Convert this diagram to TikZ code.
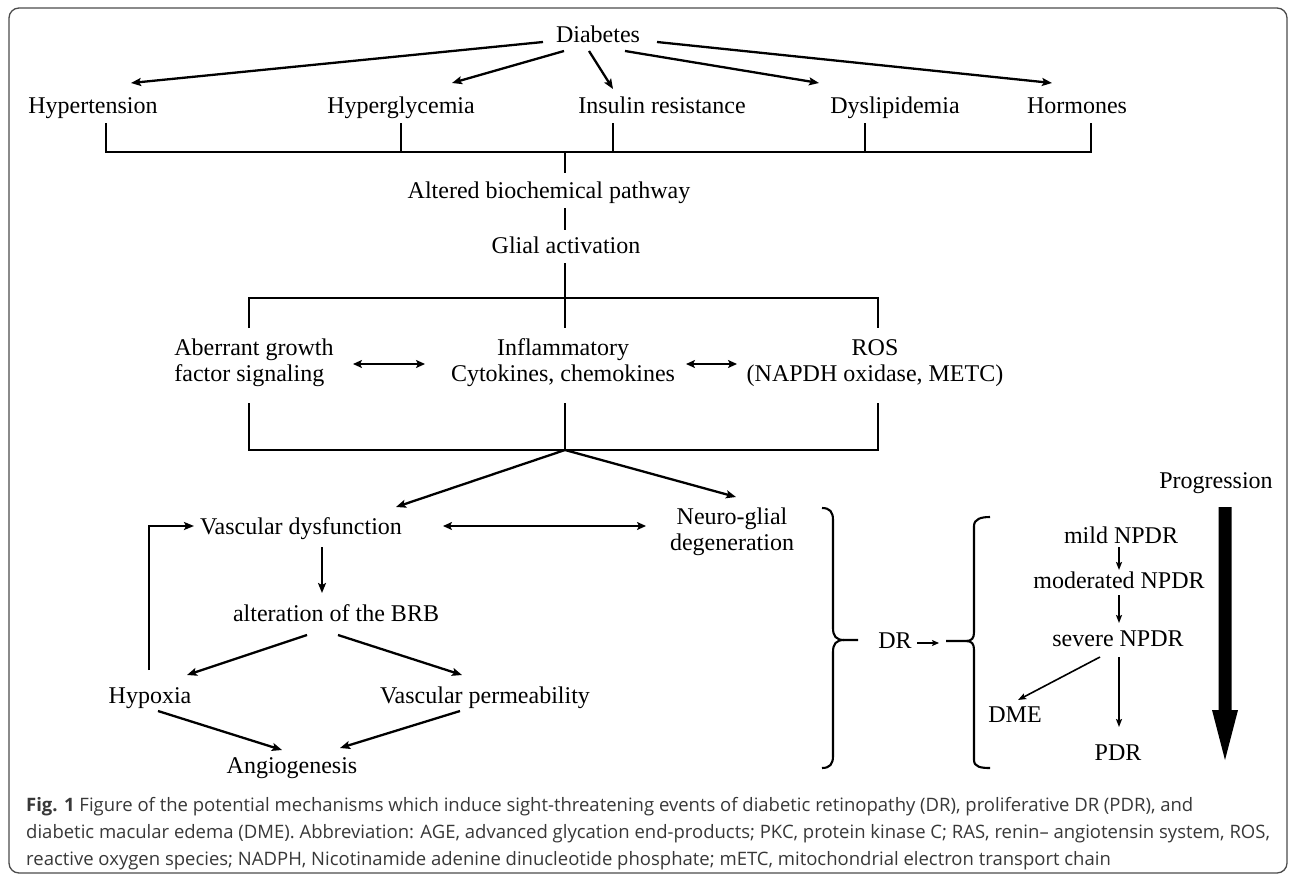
\documentclass[tikz,border=0pt]{standalone}
\usepackage{fontspec}
\setmainfont{Liberation Serif}
\newfontfamily\capfont{Open Sans}
\usetikzlibrary{arrows.meta,calc}
\begin{document}
\begin{tikzpicture}[x=1pt,y=-1pt,
  lbl/.style={font=\fontsize{24}{26}\selectfont, inner sep=0pt, text height=16pt, text depth=0pt},
  mlbl/.style={font=\fontsize{24}{26}\selectfont, inner sep=0pt, align=center},
  ln/.style={line width=2.3pt},
  arr/.style={line width=2.3pt, -{Stealth[length=10pt,width=8pt,inset=2pt]}},
  darr/.style={line width=2.3pt, {Stealth[length=9pt,width=8pt,inset=2pt]}-{Stealth[length=9pt,width=8pt,inset=2pt]}},
  tarr/.style={line width=1.6pt, -{Stealth[length=8pt,width=6pt,inset=1.5pt]}},
  capt/.style={anchor=base west, inner sep=0pt, text=black!78, font=\capfont\fontsize{18.5}{22}\selectfont},
]
\useasboundingbox (0,0) rectangle (1292,875);
\fill[white] (0,0) rectangle (1292,875);
\draw[line width=1.3pt, black!70, rounded corners=10pt] (9,8) rectangle (1287,873);

% nodes
\node[lbl] (diab) at (598,35) {Diabetes};
\node[lbl] (hyt) at (93,105) {Hypertension};
\node[lbl] (hgl) at (401,105) {Hyperglycemia};
\node[lbl] (ins) at (662,105) {Insulin resistance};
\node[lbl] (dys) at (895,105) {Dyslipidemia};
\node[lbl] (hor) at (1077,105) {Hormones};
\node[lbl] (alt) at (549,190) {Altered biochemical pathway};
\node[lbl] (gli) at (566,245) {Glial activation};
\node[mlbl, align=left] (abe) at (254,363) {Aberrant growth\\factor signaling};
\node[mlbl] (inf) at (563,363) {Inflammatory\\Cytokines, chemokines};
\node[mlbl] (ros) at (875,363) {ROS\\(NAPDH oxidase, METC)};
\node[lbl] (vas) at (301,526) {Vascular dysfunction};
\node[mlbl] (neu) at (732,532) {Neuro-glial\\degeneration};
\node[lbl] (brb) at (336,613) {alteration of the BRB};
\node[lbl] (hyp) at (150,695) {Hypoxia};
\node[lbl] (vpe) at (485,695) {Vascular permeability};
\node[lbl] (ang) at (292,765) {Angiogenesis};
\node[lbl] (prog) at (1216,480) {Progression};
\node[lbl] (dr) at (895,640) {DR};
\node[lbl] (mild) at (1121,535) {mild NPDR};
\node[lbl] (mod) at (1119,580) {moderated NPDR};
\node[lbl] (sev) at (1118,638) {severe NPDR};
\node[lbl] (dme) at (1015,714) {DME};
\node[lbl] (pdr) at (1118,752) {PDR};

% junction coordinates
\coordinate (b1L) at (106,152);
\coordinate (b1R) at (1091,152);
\coordinate (b1) at (565,152);
\coordinate (b2L) at (249,298);
\coordinate (b2R) at (878,298);
\coordinate (b2) at (565,298);
\coordinate (b3L) at (249,450);
\coordinate (b3R) at (878,450);
\coordinate (b3) at (565,450);

% Diabetes arrows
\draw[arr] ([shift={(-55,7)}]diab.center) -- ([shift={(38,-22)}]hyt.center);
\draw[arr] ([shift={(-34,16)}]diab.center) -- ([shift={(51,-22)}]hgl.center);
\draw[arr] ([shift={(-9,16)}]diab.center) -- ([shift={(-49,-16)}]ins.center);
\draw[arr] ([shift={(27,16)}]diab.center) -- ([shift={(-76,-22)}]dys.center);
\draw[arr] ([shift={(59,7)}]diab.center) -- ([shift={(-25,-22)}]hor.center);

% bracket 1
\draw[ln] ([shift={(13,18)}]hyt.center) -- (b1L) -- (b1R) -- ([shift={(14,18)}]hor.center);
\draw[ln] ([shift={(0,18)}]hgl.center) -- (hgl.center |- b1);
\draw[ln] ([shift={(-49,18)}]ins.center) -- ([shift={(-49,0)}]ins.center |- b1);
\draw[ln] ([shift={(-30,18)}]dys.center) -- ([shift={(-30,0)}]dys.center |- b1);
\draw[ln] (b1) -- ([shift={(16,-17)}]alt.center);
\draw[ln] ([shift={(16,18)}]alt.center) -- ([shift={(-1,-15)}]gli.center);
\draw[ln] ([shift={(-1,18)}]gli.center) -- (b2);

% bracket 2
\draw[ln] ([shift={(-5,-35)}]abe.center) -- (b2L) -- (b2R) -- ([shift={(3,-35)}]ros.center);
\draw[ln] (b2) -- ([shift={(2,-35)}]inf.center);
\draw[darr] ([shift={(99,1)}]abe.center) -- ([shift={(-138,1)}]inf.center);
\draw[darr] ([shift={(123,1)}]inf.center) -- ([shift={(-138,1)}]ros.center);

% bracket 3
\draw[ln] ([shift={(-5,40)}]abe.center) -- (b3L) -- (b3R) -- ([shift={(3,40)}]ros.center);
\draw[ln] ([shift={(2,40)}]inf.center) -- (b3);
\draw[arr] (b3) -- ([shift={(95,-19)}]vas.center);
\draw[arr] (b3) -- ([shift={(4,-35)}]neu.center);

% lower left
\draw[darr] ([shift={(142,0)}]vas.center) -- ([shift={(-86,-6)}]neu.center);
\draw[arr] ([shift={(21,21)}]vas.center) -- ([shift={(-14,-20)}]brb.center);
\draw[arr] ([shift={(-1,-25)}]hyp.center) |- ([shift={(-107,0)}]vas.center);
\draw[arr] ([shift={(-29,22)}]brb.center) -- ([shift={(37,-20)}]hyp.center);
\draw[arr] ([shift={(2,22)}]brb.center) -- ([shift={(-23,-20)}]vpe.center);
\draw[arr] ([shift={(8,16)}]hyp.center) -- ([shift={(-10,-15)}]ang.center);
\draw[arr] ([shift={(-25,16)}]vpe.center) -- ([shift={(48,-17)}]ang.center);

% braces
\draw[line width=2.1pt] (822,508) .. controls (830,508) and (833,512) .. (833,520) -- (833,628)
  .. controls (833,636) and (836,640) .. (844,640) -- (858,640);
\draw[line width=2.1pt] (844,640) .. controls (836,640) and (833,644) .. (833,652) -- (833,756)
  .. controls (833,764) and (830,768) .. (822,768);
\draw[line width=2.1pt] (990,517) .. controls (981,517) and (974,519) .. (974,526) -- (974,632)
  .. controls (974,638) and (972,641) .. (966,641) -- (946,641);
\draw[line width=2.1pt] (966,641) .. controls (972,641) and (974,644) .. (974,650) -- (974,760)
  .. controls (974,767) and (981,768) .. (990,768);
\draw[line width=2pt, -{Stealth[length=7pt,width=6pt,inset=1.5pt]}] ([shift={(22,3)}]dr.center) -- ([shift={(44,3)}]dr.center);

% NPDR progression
\draw[tarr] ([shift={(-2,12)}]mild.center) -- ([shift={(0,-10)}]mod.center);
\draw[tarr] ([shift={(0,15)}]mod.center) -- ([shift={(1,-15)}]sev.center);
\draw[tarr] ([shift={(-18,19)}]sev.center) -- ([shift={(3,-14)}]dme.center);
\draw[tarr] ([shift={(1,19)}]sev.center) -- ([shift={(1,-25)}]pdr.center);

% thick progression arrow
\fill (1218.5,507) -- (1231.5,507) -- (1231.5,710) -- (1238,710) -- (1225,760) -- (1212,710) -- (1218.5,710) -- cycle;

% caption
\node[capt] (cap1) at (26,811) {\textbf{Fig. 1} Figure of the potential mechanisms which induce sight-threatening events of diabetic retinopathy (DR), proliferative DR (PDR), and};
\node[capt] (cap2) at (26,838) {diabetic macular edema (DME). Abbreviation: AGE, advanced glycation end-products; PKC, protein kinase C; RAS, renin– angiotensin system, ROS,};
\node[capt] (cap3) at (26,865) {reactive oxygen species; NADPH, Nicotinamide adenine dinucleotide phosphate; mETC, mitochondrial electron transport chain};
\end{tikzpicture}
\end{document}
